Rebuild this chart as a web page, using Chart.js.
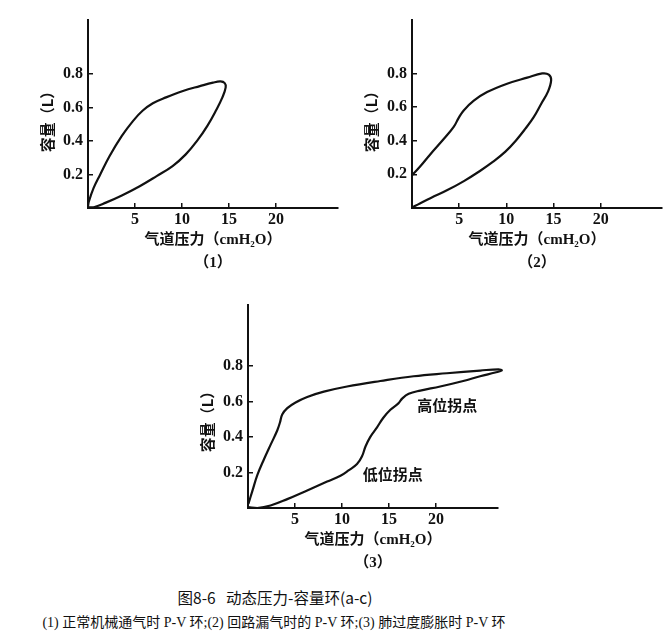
<!DOCTYPE html>
<html>
<head>
<meta charset="utf-8">
<script src="https://cdn.jsdelivr.net/npm/chart.js@4.4.1/dist/chart.umd.min.js"></script>
<style>
  body { margin: 0; background: #fff; width: 668px; height: 640px; position: relative; overflow: hidden; }
  canvas { position: absolute; }
  .cap { position: absolute; color: #111; white-space: nowrap; }
</style>
</head>
<body>
<canvas id="pv1" width="340" height="280" style="left:0;top:0"></canvas>
<canvas id="pv2" width="335" height="280" style="left:330px;top:0"></canvas>
<canvas id="pv3" width="345" height="295" style="left:160px;top:285px"></canvas>
<div class="cap" style="left:0;width:550px;top:586px;text-align:center;font:15.5px 'Noto Sans CJK SC', 'Liberation Sans', sans-serif;">图8-6&nbsp;&nbsp;&nbsp;动态压力-容量环(a-c)</div>
<div class="cap" style="left:0;width:548px;top:611px;text-align:center;font:14px 'Liberation Serif', 'Noto Sans CJK SC', serif;">(1) 正常机械通气时 P-V 环;(2) 回路漏气时的 P-V 环;(3) 肺过度膨胀时 P-V 环</div>
<script>
// tick values and labels
const xTicks = [5, 10, 15, 20];
const yTicks = [0.2, 0.4, 0.6, 0.8];
const yTitle = "容量（L）";
const xTitle = "气道压力（cmH₂O）";
const panelLabels = ["（1）", "（2）", "（3）"];

// (1) normal loop, pressure cmH2O / volume L
const loop1X = [0, 0.1, 0.6, 1.3, 2.3, 3.6, 4.8, 5.8, 6.9, 8.3, 10.1, 11.9, 13.3, 14.1, 14.55, 14.65,
  14.3, 13.6, 12.7, 11.6, 10.4, 9.0, 7.3, 5.5, 3.6, 1.9, 0.7, 0];
const loop1Y = [0.01, 0.04, 0.12, 0.2, 0.31, 0.43, 0.52, 0.58, 0.625, 0.66, 0.698, 0.727, 0.748, 0.755, 0.745, 0.72,
  0.66, 0.58, 0.49, 0.4, 0.32, 0.25, 0.19, 0.13, 0.075, 0.032, 0.006, 0.005];

// (2) circuit leak loop
const loop2X = [0, 0.88, 1.95, 3.36, 4.42, 4.95, 5.48, 6.55, 7.96, 10.08, 12.21, 13.8, 14.5, 14.75,
  14.4, 13.7, 12.9, 12.0, 11.0, 9.9, 8.6, 7.2, 5.5, 3.7, 2.0, 0.6, 0];
const loop2Y = [0.194, 0.248, 0.32, 0.41, 0.482, 0.536, 0.58, 0.638, 0.689, 0.739, 0.775, 0.8, 0.793, 0.76,
  0.69, 0.62, 0.54, 0.47, 0.4, 0.335, 0.275, 0.22, 0.16, 0.105, 0.06, 0.02, 0.003];

// (3) overdistension loop
const loop3X = [0.04, 0.46, 0.99, 1.7, 2.4, 3.11, 3.4, 3.64, 4.18, 5.06, 6.3, 8.07, 10.54, 14.08, 17.62, 21.16, 24.7, 26.65, 27.0,
  26.3, 24.7, 22.9, 20.45, 18.33, 17.1, 16.4, 16.0, 15.15, 14.4, 13.73, 13.0, 12.5, 12.14, 11.6, 10.7, 9.84, 8.42, 6.3, 4.18, 2.4, 0.99, 0.04];
const loop3Y = [0.023, 0.095, 0.185, 0.275, 0.356, 0.437, 0.482, 0.527, 0.563, 0.595, 0.626, 0.656, 0.685, 0.716, 0.743, 0.76, 0.775, 0.782, 0.775,
  0.764, 0.743, 0.716, 0.685, 0.662, 0.644, 0.617, 0.59, 0.554, 0.509, 0.455, 0.4, 0.347, 0.293, 0.248, 0.212, 0.182, 0.149, 0.099, 0.05, 0.014, 0, 0.005];

// inflection point notes on (3)
const noteText = ["高位拐点", "低位拐点"];
const noteX = [21.2, 15.4];
const noteY = [0.577, 0.19];

const ink = "#111";
const serif = "'Liberation Serif', 'DejaVu Serif', 'Noto Sans CJK SC', serif";
const cjk = "'Noto Sans CJK SC', sans-serif";

const extraText = {
  id: "extraText",
  afterDraw(chart, args, opts) {
    const { ctx, chartArea } = chart;
    ctx.save();
    ctx.fillStyle = ink;
    ctx.textAlign = "center";
    ctx.textBaseline = "middle";
    ctx.font = "bold 15px " + cjk;
    ctx.translate(chartArea.left - 41, chartArea.bottom - 90);
    ctx.rotate(-Math.PI / 2);
    ctx.fillText(opts.yTitle, 0, 0);
    ctx.restore();
    const notes = opts.notes || [];
    ctx.save();
    ctx.fillStyle = ink;
    ctx.textAlign = "center";
    ctx.textBaseline = "middle";
    ctx.font = "bold 15px " + cjk;
    notes.forEach((n) => {
      ctx.fillText(n.text, chart.scales.x.getPixelForValue(n.x), chart.scales.y.getPixelForValue(n.y));
    });
    ctx.restore();
  },
};

const makeLoop = (id, xs, ys, opt) => {
  const ctx = document.getElementById(id).getContext("2d");
  const points = xs.map((x, i) => ({ x: x, y: ys[i] }));
  return new Chart(ctx, {
    type: "scatter",
    data: {
      datasets: [
        {
          data: points,
          showLine: true,
          pointRadius: 0,
          borderColor: ink,
          borderWidth: 2.2,
          tension: 0.4,
          fill: false,
          clip: 8,
        },
      ],
    },
    options: {
      responsive: false,
      animation: false,
      layout: { padding: { top: opt.top, right: opt.right, left: 0, bottom: 0 } },
      plugins: {
        legend: { display: false },
        tooltip: { enabled: false },
        extraText: { yTitle: yTitle, notes: opt.notes },
      },
      scales: {
        x: {
          type: "linear",
          min: 0,
          max: opt.xMax,
          border: { display: true, color: ink, width: 2 },
          grid: { drawOnChartArea: false, drawTicks: true, tickLength: -5, color: ink, lineWidth: 1.5 },
          ticks: { color: ink, padding: 7, font: { family: serif, size: 16, weight: "bold" } },
          afterBuildTicks: (scale) => {
            scale.ticks = xTicks.map((v) => ({ value: v }));
          },
          afterFit: (scale) => {
            scale.height = 72;
          },
          title: {
            display: true,
            text: [xTitle, opt.label],
            color: ink,
            font: { family: serif, size: 15, weight: "bold", lineHeight: 1.53 },
            padding: { top: 0, bottom: 5.5 },
          },
        },
        y: {
          type: "linear",
          min: 0,
          max: opt.yMax,
          border: { display: true, color: ink, width: 2 },
          grid: { drawOnChartArea: false, drawTicks: true, tickLength: -5, color: ink, lineWidth: 1.5 },
          ticks: {
            color: ink,
            padding: 10,
            font: { family: serif, size: 16, weight: "bold" },
            callback: (v) => v.toFixed(1),
          },
          afterBuildTicks: (scale) => {
            scale.ticks = yTicks.map((v) => ({ value: v }));
          },
          afterFit: (scale) => {
            scale.width = opt.yWidth;
          },
        },
      },
    },
    plugins: [extraText],
  });
};

makeLoop("pv1", loop1X, loop1Y, { label: panelLabels[0], xMax: 26.6, yMax: 1.124, top: 0, right: 2, yWidth: 88, notes: [] });
makeLoop("pv2", loop2X, loop2Y, { label: panelLabels[1], xMax: 26.5, yMax: 1.12, top: 0, right: 3, yWidth: 82, notes: [] });
makeLoop("pv3", loop3X, loop3Y, {
  label: panelLabels[2],
  xMax: 26.6,
  yMax: 1.147,
  top: 10,
  right: 7,
  yWidth: 88,
  notes: noteText.map((t, i) => ({ text: t, x: noteX[i], y: noteY[i] })),
});
</script>
</body>
</html>
